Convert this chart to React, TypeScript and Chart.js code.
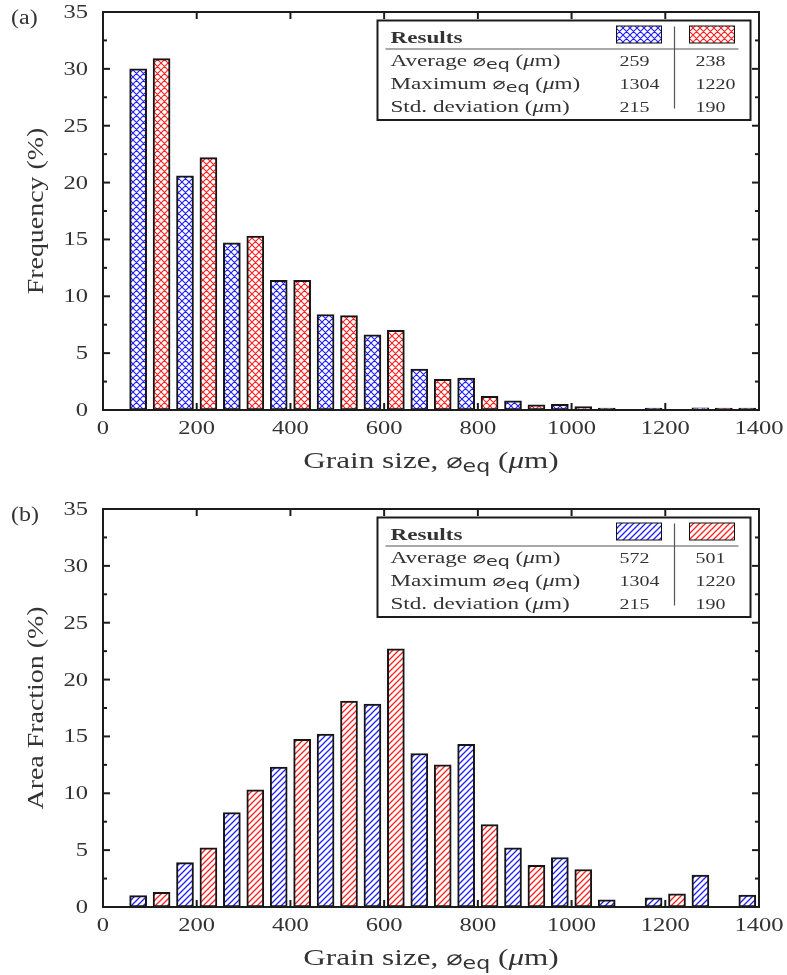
import React, { useEffect, useRef } from 'react';
import { Chart, registerables } from 'chart.js';

Chart.register(...registerables);

// ---------------- data ----------------
const blueBinX = [75, 175, 275, 375, 475, 575, 675, 775, 875, 975, 1075, 1175, 1275, 1375];
const redBinX = [125, 225, 325, 425, 525, 625, 725, 825, 925, 1025, 1125, 1225, 1325];

const freqBlue = [30.0, 20.6, 14.7, 11.4, 8.4, 6.6, 3.6, 2.8, 0.8, 0.5, 0.08, 0.08, 0.2, 0.08];
const freqRed = [30.9, 22.2, 15.3, 11.4, 8.3, 7.0, 2.7, 1.2, 0.45, 0.3, null, null, 0.08];

const areaBlue = [1.0, 3.9, 8.3, 12.3, 15.2, 17.85, 13.5, 14.3, 5.2, 4.35, 0.62, 0.8, 2.8, 1.05];
const areaRed = [1.3, 5.2, 10.3, 14.75, 18.1, 22.7, 12.5, 7.25, 3.67, 3.3, null, 1.15, null];

const xMin = 0;
const xMax = 1400;
const xStep = 200;
const yMin = 0;
const yMax = 35;
const yStep = 5;

const statRowLabels = ['Average', 'Maximum', 'Std. deviation'];
const statRowHasDiam = [true, true, false];
const freqStatsBlue = ['259', '1304', '215'];
const freqStatsRed = ['238', '1220', '190'];
const areaStatsBlue = ['572', '1304', '215'];
const areaStatsRed = ['501', '1220', '190'];

const panelLabels = ['(a)', '(b)'];
const yTitles = ['Frequency (%)', 'Area Fraction (%)'];
const xTitleMain = 'Grain size, ';

// ---------------- styling ----------------
const W = 787;
const HA = 497;
const HB = 478;
const TEXT = '#333333';
const FRAME = '#1c1c1c';
const BLUE = 'rgb(30,30,255)';
const RED = 'rgb(255,30,30)';

const serif = (s: number, style = '') => `${style} ${s}px "Liberation Serif"`.trim();
const sans = (s: number, style = '') => `${style} ${s}px "DejaVu Sans"`.trim();

type Seg = { t: string; font: string; dy?: number };

function drawSegs(
  ctx: CanvasRenderingContext2D,
  segs: Seg[],
  x: number,
  y: number,
  align: 'left' | 'center' | 'right',
  sx: number,
  rotate = 0
) {
  ctx.save();
  ctx.translate(x, y);
  if (rotate) ctx.rotate(rotate);
  ctx.scale(sx, 1);
  ctx.textBaseline = 'alphabetic';
  ctx.textAlign = 'left';
  let total = 0;
  for (const s of segs) {
    ctx.font = s.font;
    total += ctx.measureText(s.t).width;
  }
  let cx = align === 'left' ? 0 : align === 'center' ? -total / 2 : -total;
  for (const s of segs) {
    ctx.font = s.font;
    ctx.fillText(s.t, cx, s.dy || 0);
    cx += ctx.measureText(s.t).width;
  }
  ctx.restore();
}

function makePattern(color: string, kind: 'cross' | 'hatch'): CanvasPattern {
  const s = kind === 'cross' ? 7 : 6;
  const c = document.createElement('canvas');
  c.width = s;
  c.height = s;
  const g = c.getContext('2d')!;
  g.fillStyle = '#ffffff';
  g.fillRect(0, 0, s, s);
  g.strokeStyle = color;
  g.lineWidth = kind === 'cross' ? 1.1 : 1.3;
  g.beginPath();
  g.moveTo(-1, s + 1);
  g.lineTo(s + 1, -1);
  g.moveTo(-1, 1);
  g.lineTo(1, -1);
  g.moveTo(s - 1, s + 1);
  g.lineTo(s + 1, s - 1);
  if (kind === 'cross') {
    g.moveTo(-1, -1);
    g.lineTo(s + 1, s + 1);
    g.moveTo(s - 1, -1);
    g.lineTo(s + 1, 1);
    g.moveTo(-1, s - 1);
    g.lineTo(1, s + 1);
  }
  g.stroke();
  return g.createPattern(c, 'repeat')!;
}

function line(ctx: CanvasRenderingContext2D, x1: number, y1: number, x2: number, y2: number) {
  ctx.beginPath();
  ctx.moveTo(x1, y1);
  ctx.lineTo(x2, y2);
  ctx.stroke();
}

const diamSegs = (size: number, subSize: number, subDy: number): Seg[] => [
  { t: '⌀', font: sans(size) },
  { t: 'eq', font: sans(subSize, '500'), dy: subDy },
];

const umSegs = (size: number): Seg[] => [
  { t: ' (', font: serif(size) },
  { t: 'μ', font: serif(size, 'italic') },
  { t: 'm)', font: serif(size) },
];

type PanelCfg = {
  idx: number;
  height: number;
  blue: (number | null)[];
  red: (number | null)[];
  kind: 'cross' | 'hatch';
  statsBlue: string[];
  statsRed: string[];
};

function Panel({ cfg }: { cfg: PanelCfg }) {
  const ref = useRef<HTMLCanvasElement>(null);
  useEffect(() => {
    const canvas = ref.current!;
    const patBlue = makePattern(BLUE, cfg.kind);
    const patRed = makePattern(RED, cfg.kind);

    const decor = {
      id: 'decor' + cfg.idx,
      afterDraw(chart: any) {
        const ctx: CanvasRenderingContext2D = chart.ctx;
        const a = chart.chartArea;
        const xs = chart.scales.x;
        const ys = chart.scales.y;
        ctx.save();

        // frame
        ctx.strokeStyle = FRAME;
        ctx.lineWidth = 2;
        ctx.strokeRect(a.left, a.top, a.right - a.left, a.bottom - a.top);

        // inward ticks
        ctx.lineWidth = 2;
        for (const t of xs.ticks) {
          const px = xs.getPixelForValue(t.value);
          line(ctx, px, a.bottom, px, a.bottom - 7);
          line(ctx, px, a.top, px, a.top + 7);
        }
        const yt = ys.ticks;
        const ystep = yt.length > 1 ? yt[1].value - yt[0].value : yStep;
        for (let i = 0; i < yt.length; i++) {
          const py = ys.getPixelForValue(yt[i].value);
          line(ctx, a.left, py, a.left + 7, py);
          line(ctx, a.right, py, a.right - 7, py);
          if (i < yt.length - 1) {
            const pm = ys.getPixelForValue(yt[i].value + ystep / 2);
            line(ctx, a.left, pm, a.left + 4, pm);
            line(ctx, a.right, pm, a.right - 4, pm);
          }
        }

        // tick labels
        ctx.fillStyle = TEXT;
        for (const t of xs.ticks) {
          const px = xs.getPixelForValue(t.value);
          drawSegs(ctx, [{ t: String(t.value), font: serif(17.8) }], px, a.bottom + 24, 'center', 1.38);
        }
        for (const t of yt) {
          const py = ys.getPixelForValue(t.value);
          drawSegs(ctx, [{ t: String(t.value), font: serif(17.8) }], a.left - 15, py + 6, 'right', 1.38);
        }

        // axis titles
        const xTitle: Seg[] = [
          { t: xTitleMain, font: serif(24) },
          ...diamSegs(21, 17, 4),
          ...umSegs(24),
        ];
        drawSegs(ctx, xTitle, (a.left + a.right) / 2, a.bottom + 58, 'center', 1.3);
        drawSegs(
          ctx,
          [{ t: yTitles[cfg.idx], font: serif(22.7) }],
          42.5,
          (a.top + a.bottom) / 2,
          'center',
          1.23,
          -Math.PI / 2
        );

        // panel label
        drawSegs(ctx, [{ t: panelLabels[cfg.idx], font: serif(20) }], 11, a.top + 11.5, 'left', 1.2);

        // legend table
        const bw = 373;
        const bh = 99.5;
        const bx = a.right - 8.5 - bw;
        const by = a.top + 8.5;
        ctx.fillStyle = '#ffffff';
        ctx.fillRect(bx, by, bw, bh);
        ctx.strokeStyle = FRAME;
        ctx.lineWidth = 2;
        ctx.strokeRect(bx, by, bw, bh);

        ctx.fillStyle = TEXT;
        drawSegs(ctx, [{ t: 'Results', font: serif(17, 'bold') }], bx + 13, by + 22.5, 'left', 1.36);

        ctx.fillStyle = patBlue;
        ctx.fillRect(bx + 239, by + 5.5, 45, 17);
        ctx.fillStyle = patRed;
        ctx.fillRect(bx + 312, by + 5.5, 45, 17);
        ctx.strokeStyle = '#111';
        ctx.lineWidth = 1;
        ctx.strokeRect(bx + 239, by + 5.5, 45, 17);
        ctx.strokeRect(bx + 312, by + 5.5, 45, 17);

        ctx.strokeStyle = '#555';
        ctx.lineWidth = 1.2;
        line(ctx, bx + 8, by + 28.5, bx + 361, by + 28.5);
        line(ctx, bx + 297, by + 6, bx + 297, by + 88);

        ctx.fillStyle = TEXT;
        const fs = 17;
        const fsx = 1.36;
        for (let r = 0; r < statRowLabels.length; r++) {
          const yb = by + 45 + r * 23;
          const segs: Seg[] = statRowHasDiam[r]
            ? [{ t: statRowLabels[r] + ' ', font: serif(fs) }, ...diamSegs(16, 14, 3), ...umSegs(fs)]
            : [{ t: statRowLabels[r], font: serif(fs) }, ...umSegs(fs)];
          drawSegs(ctx, segs, bx + 13, yb, 'left', fsx);
          drawSegs(ctx, [{ t: cfg.statsBlue[r], font: serif(15) }], bx + 242, yb, 'left', 1.33);
          drawSegs(ctx, [{ t: cfg.statsRed[r], font: serif(15) }], bx + 318, yb, 'left', 1.33);
        }
        ctx.restore();
      },
    };

    const chartH = 398;
    const padTop = 12;
    const chart = new Chart(canvas, {
      type: 'bar',
      data: {
        datasets: [
          {
            data: blueBinX.map((x, i) => ({ x, y: cfg.blue[i] })) as any,
            backgroundColor: patBlue,
            borderColor: '#151515',
            borderWidth: 2,
            borderSkipped: false,
            barThickness: 17,
            grouped: false,
            minBarLength: 2,
          } as any,
          {
            data: redBinX.map((x, i) => ({ x, y: cfg.red[i] })) as any,
            backgroundColor: patRed,
            borderColor: '#151515',
            borderWidth: 2,
            borderSkipped: false,
            barThickness: 17,
            grouped: false,
            minBarLength: 2,
          } as any,
        ],
      },
      options: {
        responsive: false,
        animation: false,
        devicePixelRatio: 1,
        layout: { padding: { left: 0, right: 28, top: padTop, bottom: 0 } },
        plugins: { legend: { display: false }, tooltip: { enabled: false } },
        scales: {
          x: {
            type: 'linear',
            min: xMin,
            max: xMax,
            offset: false,
            ticks: { stepSize: xStep, display: false },
            grid: { display: false },
            border: { display: false },
            afterFit: (s: any) => {
              s.height = cfg.height - padTop - chartH;
            },
          },
          y: {
            type: 'linear',
            min: yMin,
            max: yMax,
            ticks: { stepSize: yStep, display: false },
            grid: { display: false },
            border: { display: false },
            afterFit: (s: any) => {
              s.width = 103;
            },
          },
        },
      } as any,
      plugins: [decor],
    });
    return () => chart.destroy();
  }, []);
  return (
    <canvas
      ref={ref}
      width={W}
      height={cfg.height}
      style={{ display: 'block', width: W, height: cfg.height }}
    />
  );
}

export default function App() {
  useEffect(() => {
    document.body.style.margin = '0';
  }, []);
  const panels: PanelCfg[] = [
    { idx: 0, height: HA, blue: freqBlue, red: freqRed, kind: 'cross', statsBlue: freqStatsBlue, statsRed: freqStatsRed },
    { idx: 1, height: HB, blue: areaBlue, red: areaRed, kind: 'hatch', statsBlue: areaStatsBlue, statsRed: areaStatsRed },
  ];
  return (
    <div style={{ width: W, background: '#fff' }}>
      {panels.map((p) => (
        <Panel key={p.idx} cfg={p} />
      ))}
    </div>
  );
}
